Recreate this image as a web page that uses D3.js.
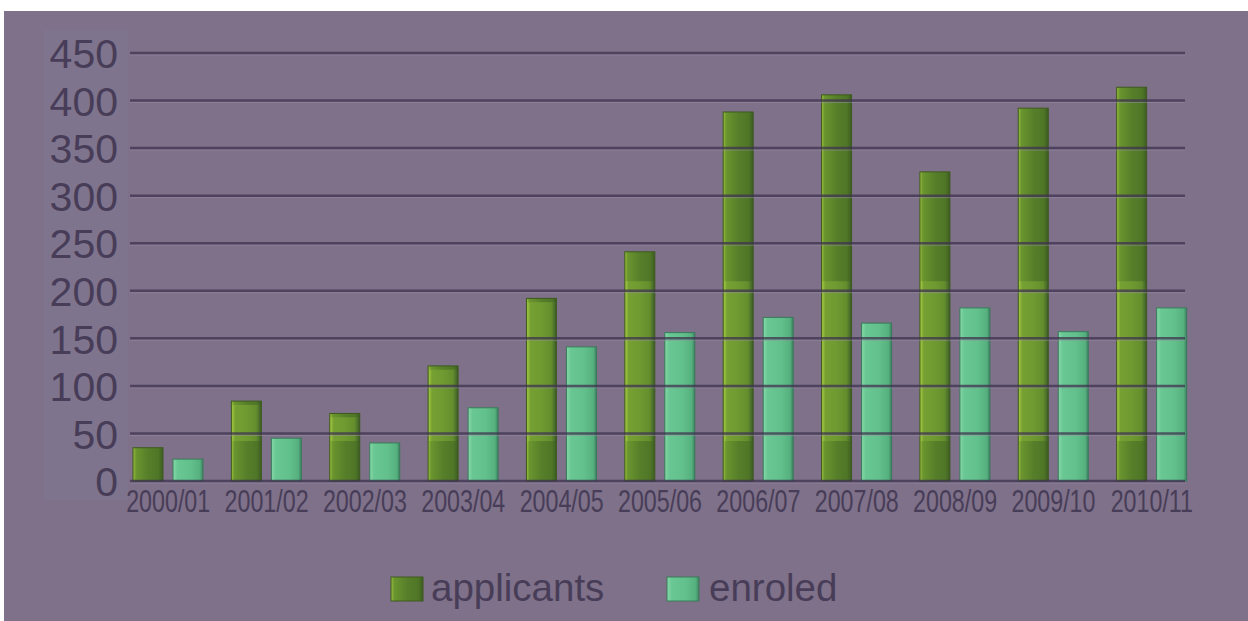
<!DOCTYPE html>
<html><head><meta charset="utf-8">
<script src="https://cdn.jsdelivr.net/npm/d3@7"></script>
<style>html,body{margin:0;padding:0;background:#fff;}svg{display:block;}</style>
</head><body>
<svg id="c" width="1248" height="621"></svg>
<script>
const categories = ["2000/01","2001/02","2002/03","2003/04","2004/05","2005/06","2006/07","2007/08","2008/09","2009/10","2010/11"];
const applicants = [35, 84, 71, 121, 192, 241, 388, 406, 325, 392, 414];
const enroled = [23, 45, 40, 77, 141, 156, 172, 166, 182, 157, 182];
const seriesNames = ["applicants","enroled"];
const yTicks = [0,50,100,150,200,250,300,350,400,450];

const svg = d3.select("#c");
const textCol = "#483d58";
svg.append("rect").attr("x",4).attr("y",11).attr("width",1244).attr("height",610).attr("fill","#7e7189");
svg.append("rect").attr("x",44).attr("y",30).attr("width",84).attr("height",470).attr("fill","#7f748d");

const defs = svg.append("defs");
const g1 = defs.append("linearGradient").attr("id","gA").attr("x1","0").attr("x2","1").attr("y1","0").attr("y2","0");
[[0,"#9dc23e"],[0.1,"#6a952e"],[0.5,"#577f2a"],[0.85,"#4f7626"],[1,"#3d5c22"]].forEach(s=>g1.append("stop").attr("offset",s[0]).attr("stop-color",s[1]));
const g1b = defs.append("linearGradient").attr("id","gA2").attr("x1","0").attr("x2","1").attr("y1","0").attr("y2","0");
[[0,"#a0c540"],[0.1,"#76a032"],[0.5,"#6f9a31"],[0.85,"#648e2d"],[1,"#44662a"]].forEach(s=>g1b.append("stop").attr("offset",s[0]).attr("stop-color",s[1]));
const g2 = defs.append("linearGradient").attr("id","gE").attr("x1","0").attr("x2","1").attr("y1","0").attr("y2","0");
[[0,"#86d8a8"],[0.15,"#68c792"],[0.6,"#62c08c"],[0.9,"#55b07e"],[1,"#3c8062"]].forEach(s=>g2.append("stop").attr("offset",s[0]).attr("stop-color",s[1]));

const y = d3.scaleLinear().domain([0,450]).range([481,53]);
const x = d3.scaleBand().domain(categories).range([119,1201]).padding(0);
const xs = d3.scaleBand().domain(seriesNames).range([14,84]).paddingInner(0.25).paddingOuter(0);
const idx = d => categories.indexOf(d);

// y axis labels
const yAxis = d3.axisLeft(y).tickValues(yTicks).tickSize(0).tickPadding(0);
const ya = svg.append("g").attr("transform","translate(118,0)").call(yAxis);
ya.select(".domain").remove();
ya.selectAll("text").attr("font-family","Liberation Sans, Arial, sans-serif").attr("font-size",41).attr("fill",textCol).attr("dy","0.36em");

// bars
const groups = svg.append("g").selectAll("g").data(categories).join("g").attr("transform",d=>`translate(${x(d)},0)`);
groups.append("rect").attr("x",xs("applicants")).attr("width",xs.bandwidth())
  .attr("y",d=>y(applicants[idx(d)])).attr("height",d=>y(0)-y(applicants[idx(d)]))
  .attr("fill","url(#gA)").attr("stroke","#3e5a1e").attr("stroke-width",1);
// lighter mid band of the applicant bars
const lightTop = d => y(Math.min(applicants[idx(d)]-4, 210));
groups.filter(d=>applicants[idx(d)]>46).append("rect").attr("x",xs("applicants")+1).attr("width",xs.bandwidth()-2)
  .attr("y",lightTop).attr("height",d=>y(42)-lightTop(d))
  .attr("fill","url(#gA2)");
groups.append("rect").attr("x",xs("enroled")).attr("width",xs.bandwidth())
  .attr("y",d=>y(enroled[idx(d)])).attr("height",d=>y(0)-y(enroled[idx(d)]))
  .attr("fill","url(#gE)").attr("stroke","#3a7a5a").attr("stroke-width",1);

// gridlines over bars
const grid = svg.append("g");
yTicks.forEach(t=>{
  grid.append("line").attr("x1",130).attr("x2",1185).attr("y1",y(t)+2).attr("y2",y(t)+2).attr("stroke","#9a8fa6").attr("stroke-width",1).attr("opacity",0.5);
  grid.append("line").attr("x1",130).attr("x2",1185).attr("y1",y(t)).attr("y2",y(t)).attr("stroke","#3f3350").attr("stroke-width",2.5).attr("opacity",0.75);
});

// x axis labels
const xAxis = d3.axisBottom(x).tickSize(0).tickPadding(0);
const xa = svg.append("g").attr("transform","translate(0,482)").call(xAxis);
xa.select(".domain").remove();
xa.selectAll(".tick text").attr("font-family","Liberation Sans, Arial, sans-serif").attr("font-size",31).attr("fill",textCol)
  .attr("y",0).attr("dy","0.98em").attr("transform","scale(0.75,1)");
xa.selectAll(".tick").each(function(d){
  d3.select(this).attr("transform",`translate(${x(d)+x.bandwidth()/2},0)`);
});

// legend
const leg = svg.append("g");
const legItems = [{n:"applicants",fill:"url(#gA)",stroke:"#3e5a1e",sx:391,tx:431},{n:"enroled",fill:"url(#gE)",stroke:"#3a7a5a",sx:667,tx:709}];
legItems.forEach(l=>{
  leg.append("rect").attr("x",l.sx).attr("y",577).attr("width",32).attr("height",24).attr("fill",l.fill).attr("stroke",l.stroke);
  leg.append("text").attr("x",l.tx).attr("y",601).attr("font-family","Liberation Sans, Arial, sans-serif").attr("font-size",38.5).attr("fill",textCol).text(l.n);
});
</script>
</body></html>
